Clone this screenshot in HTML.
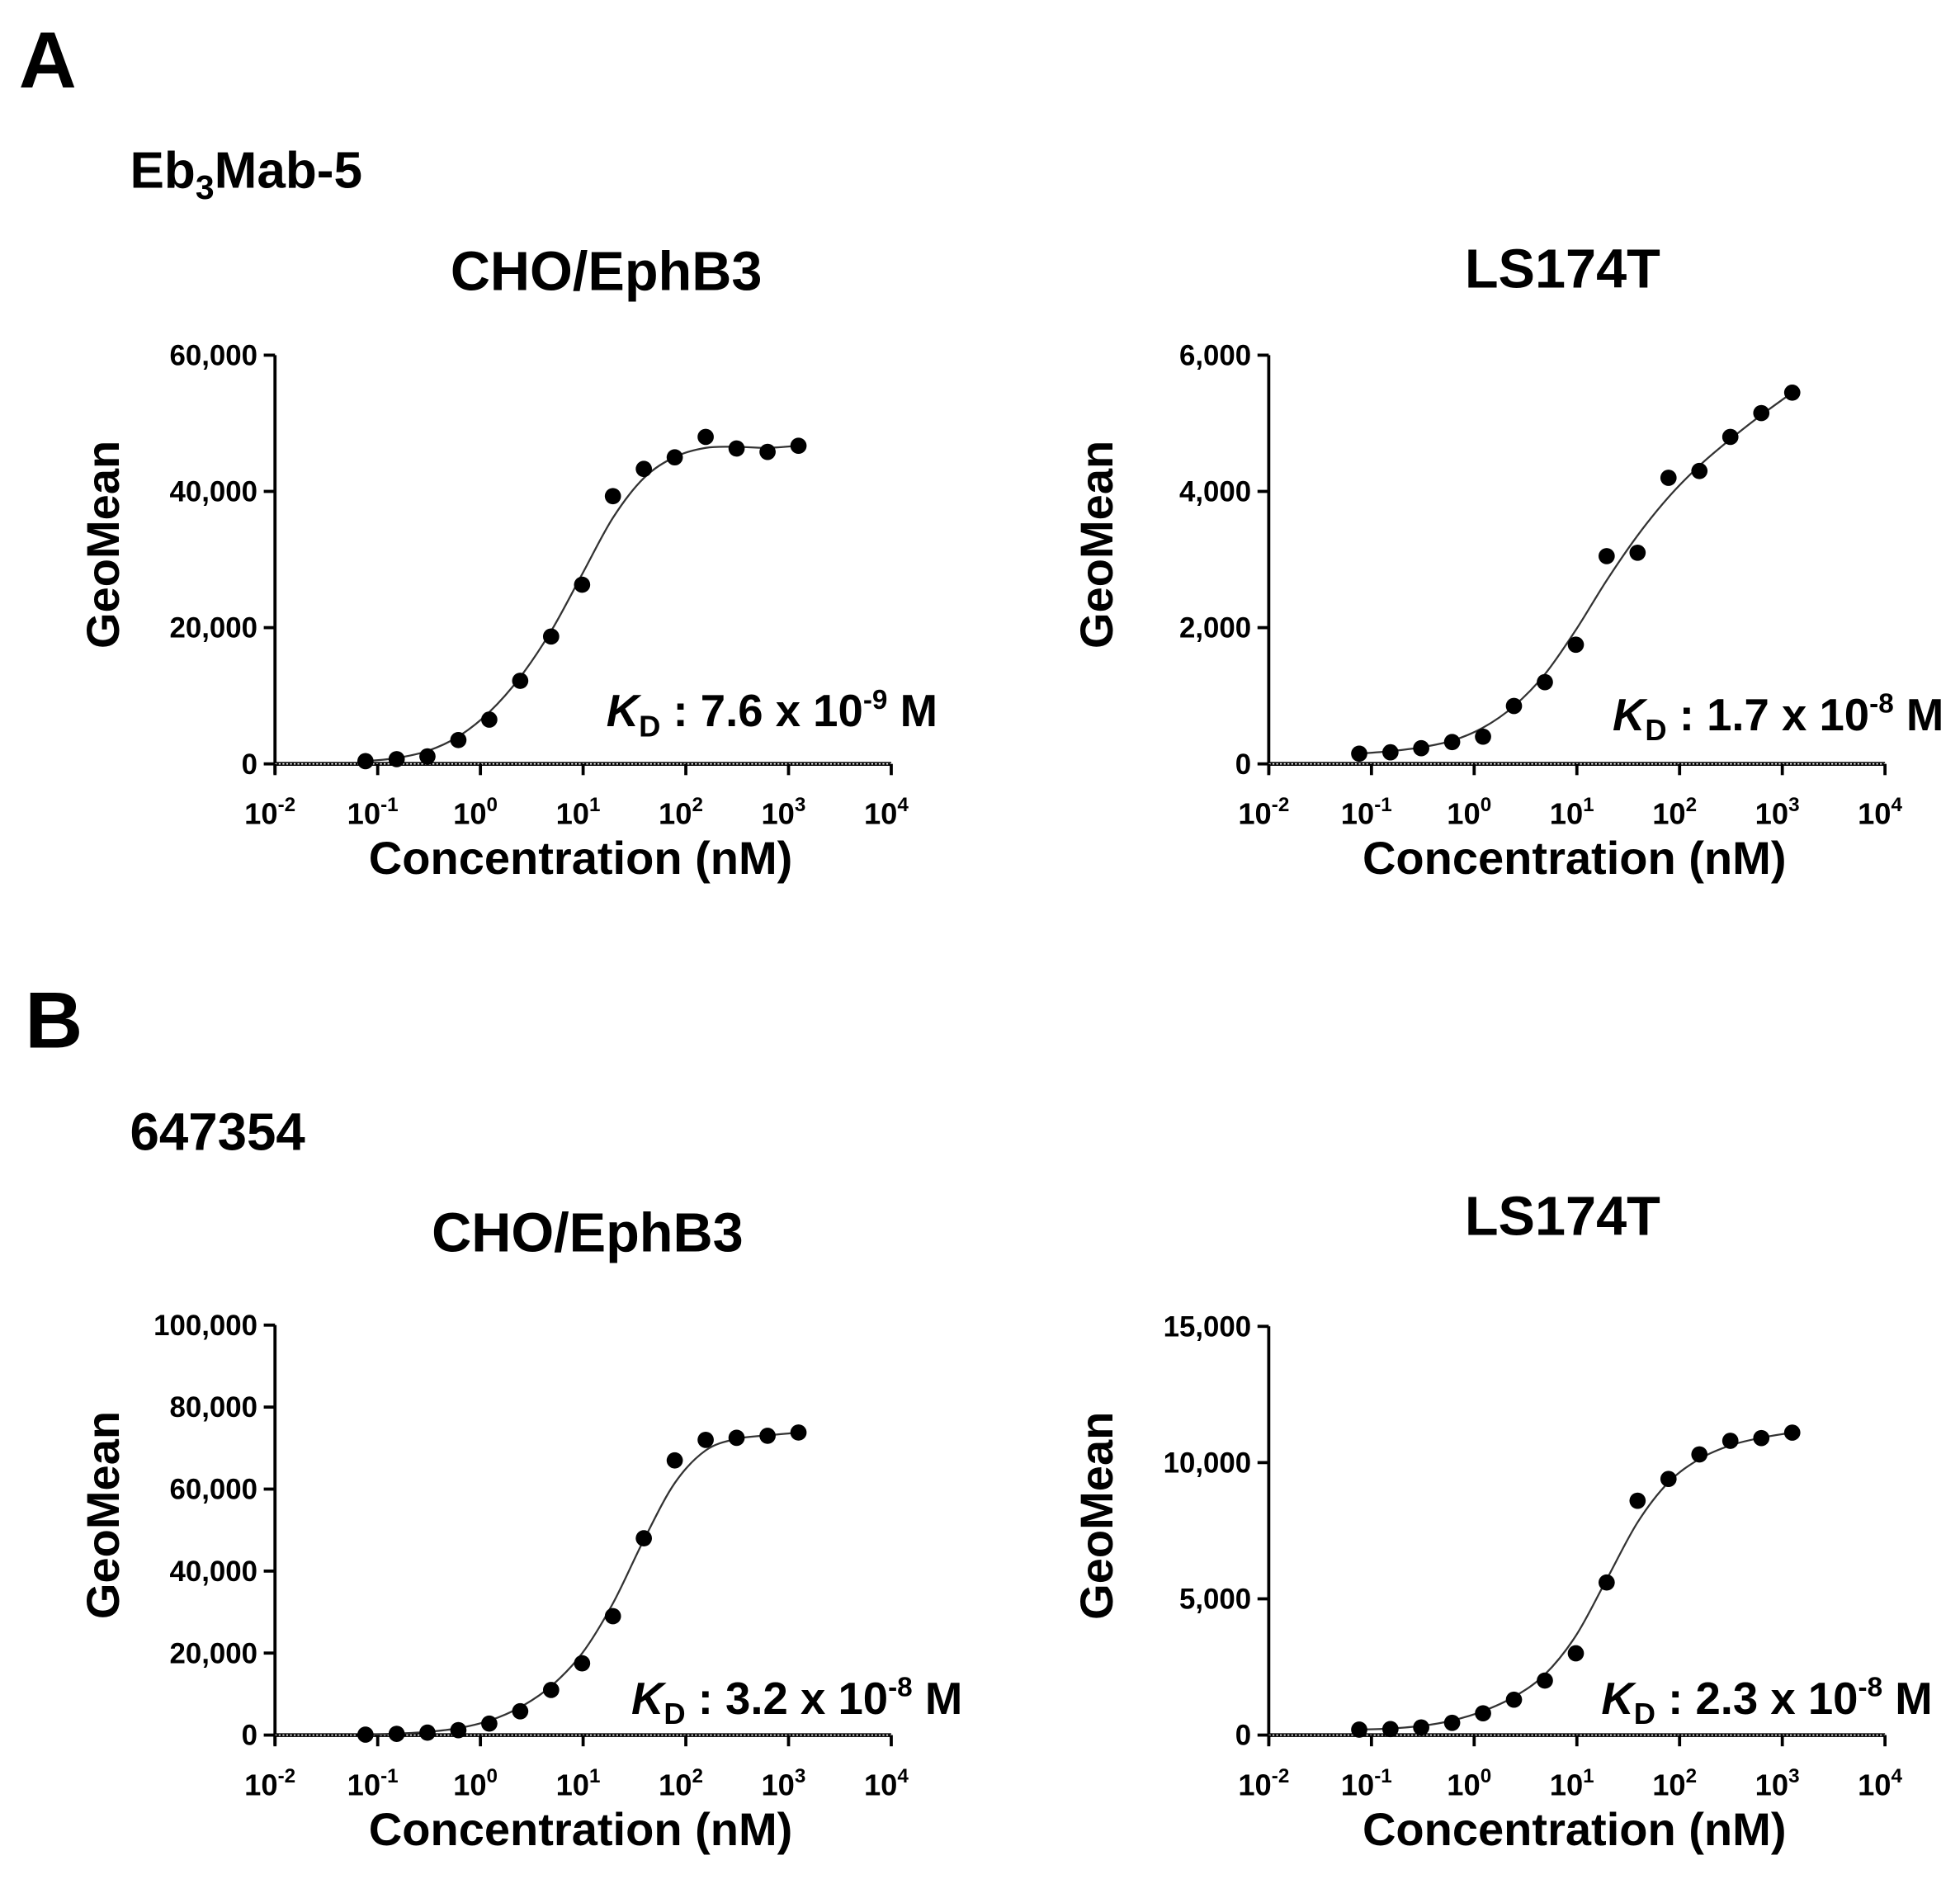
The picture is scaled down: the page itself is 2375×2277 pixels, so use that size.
<!DOCTYPE html>
<html><head><meta charset="utf-8"><style>
html,body{margin:0;padding:0;background:#fff}
svg{display:block}
text{font-family:"Liberation Sans",Arial,sans-serif;font-weight:bold;fill:#000}
</style></head><body>
<svg id="fig" width="2375" height="2277" viewBox="0 0 1568 1503" xmlns="http://www.w3.org/2000/svg">
<text x="15" y="70" font-size="64">A</text>
<text x="104" y="150" font-size="41">Eb<tspan font-size="27" dy="9">3</tspan><tspan dy="-9">Mab-5</tspan></text>
<text x="20" y="838" font-size="64">B</text>
<text x="104" y="920" font-size="42">647354</text>
<g id="charts"></g>
</svg>
<script>
// Concentrations (nM), 2-fold dilutions
const conc = [0.076,0.153,0.305,0.61,1.22,2.44,4.88,9.77,19.5,39,78,156,312,625,1250];
const xTickExps = [-2,-1,0,1,2,3,4];
// Series values
const valsA1 = [400,700,1100,3500,6500,12200,18700,26300,39300,43300,45000,48000,46300,45800,46700];
const valsA2 = [150,170,230,320,400,850,1200,1750,3050,3100,4200,4300,4800,5150,5450];
const valsB1 = [100,300,600,1200,2800,5800,11000,17500,29000,48000,67000,72000,72500,73000,73800];
const valsB2 = [200,220,280,450,800,1300,2000,3000,5600,8600,9400,10300,10800,10900,11100];
// Y tick labels
const ticksA1 = [0,20000,40000,60000];
const ticksA2 = [0,2000,4000,6000];
const ticksB1 = [0,20000,40000,60000,80000,100000];
const ticksB2 = [0,5000,10000,15000];
const titles = ["CHO/EphB3","LS174T","CHO/EphB3","LS174T"];
const kdVals = ["7.6","1.7","3.2","2.3"];
const kdExps = ["-9","-8","-8","-8"];

const NS="http://www.w3.org/2000/svg";
const root=document.getElementById('charts');
function mk(tag,attrs,parent){const e=document.createElementNS(NS,tag);for(const k in attrs)e.setAttribute(k,attrs[k]);(parent||root).appendChild(e);return e;}
function smooth(a,n){let b=a.slice();for(let k=0;k<n;k++){const c=b.slice();for(let i=1;i<b.length-1;i++)c[i]=0.25*b[i-1]+0.5*b[i]+0.25*b[i+1];b=c;}return b;}

function chart(id,vals,ticks,title,kd,kdE,L,R,T,B,titleX,titleY,kdX,kdY){
  const g=mk('g',{});
  
  
  const ymax=ticks[ticks.length-1];
  const xs=v=>L+(Math.log10(v)+2)/6*(R-L);
  const ys=v=>B-v/ymax*(B-T);
  const t=mk('text',{x:titleX,y:titleY,'font-size':44,'text-anchor':'middle'},g);t.textContent=title;
  
  
  const ya=mk('line',{x1:L,y1:T,x2:L,y2:B+8,stroke:'#000','stroke-width':2.5},g);
  
  
  const xa=mk('line',{x1:L,y1:B,x2:R,y2:B,stroke:'#000','stroke-width':3},g);
  
  
  mk('line',{x1:L,y1:B,x2:R,y2:B,stroke:'#fff','stroke-width':1,'stroke-dasharray':'1.5 1.5'},g);
  ticks.forEach(v=>{
    mk('line',{x1:L-9,y1:ys(v),x2:L,y2:ys(v),stroke:'#000','stroke-width':2.5},g);
    const tl=mk('text',{x:L-14,y:ys(v)+8,'font-size':23,'text-anchor':'end'},g);
    tl.textContent=v.toLocaleString('en-US');
    
    
  });
  xTickExps.forEach(e=>{
    const x=L+(e+2)/6*(R-L);
    mk('line',{x1:x,y1:B,x2:x,y2:B+9,stroke:'#000','stroke-width':2.5},g);
    const tl=mk('text',{x:x-4,y:B+48,'font-size':24,'text-anchor':'middle'},g);
    tl.innerHTML='10<tspan font-size="16" dy="-10">'+e+'</tspan>';
    
    
  });
  const xl=mk('text',{x:(L+R)/2-2,y:B+88,'font-size':37,'text-anchor':'middle'},g);
  xl.textContent='Concentration (nM)';
  
  
  const yl=mk('text',{x:0,y:0,'font-size':37,'text-anchor':'middle',transform:`translate(${L-125},${(T+B)/2-12}) rotate(-90)`},g);
  yl.textContent='GeoMean';
  
  
  const sv=smooth(vals,2);
  const P=sv.map((v,i)=>[xs(conc[i]),ys(v)]);
  let d='M'+P[0][0]+','+P[0][1];
  for(let i=0;i<P.length-1;i++){
    const p0=P[Math.max(0,i-1)],p1=P[i],p2=P[i+1],p3=P[Math.min(P.length-1,i+2)];
    d+=` C${p1[0]+(p2[0]-p0[0])/6},${p1[1]+(p2[1]-p0[1])/6} ${p2[0]-(p3[0]-p1[0])/6},${p2[1]-(p3[1]-p1[1])/6} ${p2[0]},${p2[1]}`;
  }
  const c=mk('path',{d:d,fill:'none',stroke:'#333','stroke-width':1.5},g);
  
  
  vals.forEach((v,i)=>{
    const p=mk('circle',{cx:xs(conc[i]),cy:ys(v),r:6.5,fill:'#000'},g);
    
    
  });
  const k=mk('text',{x:kdX,y:kdY,'font-size':36,'text-anchor':'end'},g);
  k.innerHTML='<tspan font-style="italic">K</tspan><tspan font-size="24" dy="8">D</tspan><tspan dy="-8"> : '+kd+' x 10</tspan><tspan font-size="22" dy="-14">'+kdE+'</tspan><tspan dy="14"> M</tspan>';
  
  
}
chart('chart-a-cho',valsA1,ticksA1,titles[0],kdVals[0],kdExps[0],220,713,284,611,485,232,750,581);
chart('chart-a-ls174t',valsA2,ticksA2,titles[1],kdVals[1],kdExps[1],1015,1508,284,611,1250,230,1555,584);
chart('chart-b-cho',valsB1,ticksB1,titles[2],kdVals[2],kdExps[2],220,713,1060,1388,470,1001,770,1371);
chart('chart-b-ls174t',valsB2,ticksB2,titles[3],kdVals[3],kdExps[3],1015,1508,1061,1388,1250,988,1546,1371);
</script>
</body></html>
